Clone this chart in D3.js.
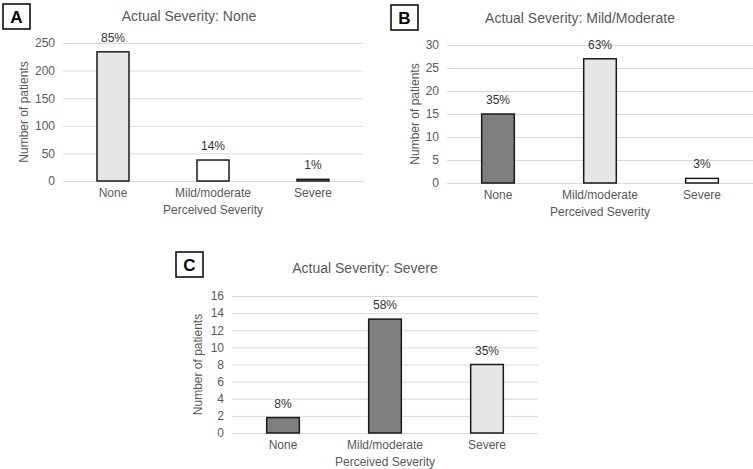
<!DOCTYPE html>
<html>
<head>
<meta charset="utf-8">
<script src="https://cdn.jsdelivr.net/npm/d3@7"></script>
<style>
  body { margin: 0; background: #fff; }
  svg { display: block; font-family: "Liberation Sans", Arial, sans-serif; }
  .tick text { fill: #595959; font-size: 12px; }
</style>
</head>
<body>
<svg id="chart" width="753" height="469"></svg>
<script>
// perceived severity categories (x axis)
const categories = ['None', 'Mild/moderate', 'Severe'];

// panel A: actual severity none
const countsNone = [234, 38, 3];
const pctNone = ['85%', '14%', '1%'];
const ticksNone = [0, 50, 100, 150, 200, 250];

// panel B: actual severity mild/moderate
const countsMild = [15, 27, 1];
const pctMild = ['35%', '63%', '3%'];
const ticksMild = [0, 5, 10, 15, 20, 25, 30];

// panel C: actual severity severe
const countsSevere = [1.8, 13.3, 8];
const pctSevere = ['8%', '58%', '35%'];
const ticksSevere = [0, 2, 4, 6, 8, 10, 12, 14, 16];

const panels = [
  { letter: 'A', title: 'Actual Severity: None', actual: 0, counts: countsNone, pct: pctNone, ticks: ticksNone,
    x0: 63, x1: 363, yTop: 43, yBot: 181, titleX: 189, titleY: 21, box: [3, 4], yLabelX: 28 },
  { letter: 'B', title: 'Actual Severity: Mild/Moderate', actual: 1, counts: countsMild, pct: pctMild, ticks: ticksMild,
    x0: 447, x1: 753, yTop: 45, yBot: 183, titleX: 580, titleY: 23, box: [391, 5], yLabelX: 419 },
  { letter: 'C', title: 'Actual Severity: Severe', actual: 2, counts: countsSevere, pct: pctSevere, ticks: ticksSevere,
    x0: 232, x1: 538, yTop: 296, yBot: 433, titleX: 365, titleY: 273, box: [176, 252], yLabelX: 202 }
];

const svg = d3.select('#chart');
const textColor = '#595959';

function fillFor(perceived, actual) {
  if (perceived === actual) { return '#e6e6e6' }
  else if (perceived < actual) { return '#7f7f7f' }
  else { return '#ffffff' }
}

function drawPanel(p) {
  const g = svg.append('g');
  const x = d3.scaleBand()
    .domain(categories)
    .range([p.x0, p.x1])
    .paddingInner(0.68)
    .paddingOuter(0.34);
  const y = d3.scaleLinear()
    .domain([0, d3.max(p.ticks)])
    .range([p.yBot, p.yTop]);

  // gridlines + tick labels
  const axis = g.append('g')
    .attr('transform', `translate(${p.x0},0)`)
    .call(d3.axisLeft(y).tickValues(p.ticks).tickSize(-(p.x1 - p.x0)).tickPadding(8));
  axis.select('.domain').remove();
  axis.selectAll('.tick line').attr('stroke', '#d9d9d9').attr('stroke-width', 1);

  // bars
  g.selectAll('rect.bar')
    .data(p.counts)
    .enter()
    .append('rect')
    .attr('class', 'bar')
    .attr('x', (d, i) => x(categories[i]))
    .attr('y', d => y(d))
    .attr('width', x.bandwidth())
    .attr('height', d => y(0) - y(d))
    .attr('fill', (d, i) => fillFor(i, p.actual))
    .attr('stroke', '#1a1a1a')
    .attr('stroke-width', 1.5);

  // percentage labels
  g.selectAll('text.pct')
    .data(p.counts)
    .enter()
    .append('text')
    .attr('class', 'pct')
    .attr('x', (d, i) => x(categories[i]) + x.bandwidth() / 2)
    .attr('y', d => y(d) - 10)
    .attr('text-anchor', 'middle')
    .attr('font-size', 12)
    .attr('fill', '#333')
    .text((d, i) => p.pct[i]);

  // category labels
  g.selectAll('text.cat')
    .data(categories)
    .enter()
    .append('text')
    .attr('class', 'cat')
    .attr('x', d => x(d) + x.bandwidth() / 2)
    .attr('y', p.yBot + 16)
    .attr('text-anchor', 'middle')
    .attr('font-size', 12)
    .attr('fill', textColor)
    .text(d => d);

  g.append('text')
    .attr('x', (p.x0 + p.x1) / 2)
    .attr('y', p.yBot + 33)
    .attr('text-anchor', 'middle')
    .attr('font-size', 12)
    .attr('fill', textColor)
    .text('Perceived Severity');

  // y axis title
  g.append('text')
    .attr('transform', `translate(${p.yLabelX},${(p.yTop + p.yBot) / 2}) rotate(-90)`)
    .attr('text-anchor', 'middle')
    .attr('font-size', 12)
    .attr('fill', textColor)
    .text('Number of patients');

  // chart title
  g.append('text')
    .attr('x', p.titleX)
    .attr('y', p.titleY)
    .attr('text-anchor', 'middle')
    .attr('font-size', 14)
    .attr('fill', textColor)
    .text(p.title);

  // panel letter box
  g.append('rect')
    .attr('x', p.box[0])
    .attr('y', p.box[1])
    .attr('width', 27)
    .attr('height', 25)
    .attr('fill', '#fff')
    .attr('stroke', '#000')
    .attr('stroke-width', 1.5);
  g.append('text')
    .attr('x', p.box[0] + 13.5)
    .attr('y', p.box[1] + 18.5)
    .attr('text-anchor', 'middle')
    .attr('font-size', 17)
    .attr('font-weight', 'bold')
    .attr('fill', '#000')
    .text(p.letter);
}

panels.forEach(drawPanel);
</script>
</body>
</html>
